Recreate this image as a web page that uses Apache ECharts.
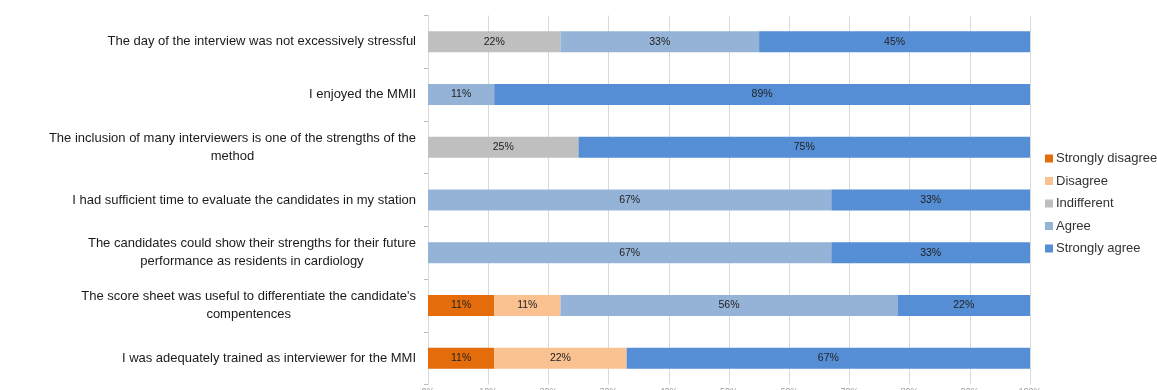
<!DOCTYPE html>
<html><head><meta charset="utf-8">
<script src="https://cdn.jsdelivr.net/npm/echarts@6/dist/echarts.min.js"></script>
<style>html,body{margin:0;padding:0;background:#fff}#c{width:1157px;height:390px}</style>
</head><body><div id="c"></div>
<script>
const categories = [
  "The day of the interview was not excessively stressful",
  "I enjoyed the MMII",
  "The inclusion of many interviewers is one of the strengths of the\nmethod",
  "I had sufficient time to evaluate the candidates in my station",
  "The candidates could show their strengths for their future\nperformance as residents in cardiology",
  "The score sheet was useful to differentiate the candidate's\ncompentences",
  "I was adequately trained as interviewer for the MMI"
];
const seriesNames = ["Strongly disagree","Disagree","Indifferent","Agree","Strongly agree"];
const stronglyDisagree = [0, 0, 0, 0, 0, 11, 11];
const disagree         = [0, 0, 0, 0, 0, 11, 22];
const indifferent      = [22, 0, 25, 0, 0, 0, 0];
const agree            = [33, 11, 0, 67, 67, 56, 0];
const stronglyAgree    = [45, 89, 75, 33, 33, 22, 67];
const tickLabels = ["0%","10%","20%","30%","40%","50%","60%","70%","80%","90%","100%"];
const colors = ["#E46C0A","#FAC191","#BFBFBF","#95B3D7","#558ED5"];
const values = [stronglyDisagree, disagree, indifferent, agree, stronglyAgree];

const chart = echarts.init(document.getElementById('c'), null, {renderer:'canvas'});
chart.setOption({
  animation:false,
  color: colors,
  grid:{left:428, right:127, top:15.5, bottom:5.5, containLabel:false, outerBoundsMode:'none'},
  legend:{
    orient:'vertical', left:1040, top:147,
    itemWidth:8, itemHeight:8, itemGap:9.5,
    icon:'rect',
    textStyle:{fontFamily:'Liberation Sans', fontSize:13, color:'#333', padding:[0,0,0,-2]},
    data: seriesNames
  },
  xAxis:{
    type:'value', min:0, max:100, interval:10,
    axisLine:{show:false}, axisTick:{show:false},
    splitLine:{lineStyle:{color:'#d9d9d9', width:1}},
    axisLabel:{margin:3, fontSize:9, color:'#999', fontFamily:'Liberation Sans',
      formatter:(v)=>tickLabels[Math.round(v/10)]}
  },
  yAxis:{
    type:'category', inverse:true, data:categories,
    axisLine:{show:true, lineStyle:{color:'#d9d9d9'}},
    axisTick:{show:true, length:4, lineStyle:{color:'#bbb'}},
    axisLabel:{
      margin:12, fontSize:13, color:'#1a1a1a', fontFamily:'Liberation Sans', lineHeight:18,
      formatter:(v)=>v.split('\n').map(s=>'{c|'+s+'}').join('\n'),
      rich:{c:{align:'center', fontSize:13, fontFamily:'Liberation Sans', color:'#1a1a1a', lineHeight:18}}
    }
  },
  series: seriesNames.map((n,i)=>({
    name:n, type:'bar', stack:'s', barWidth:21,
    data: values[i].map(v=>v===0?null:v),
    itemStyle:{color:colors[i]},
    label:{show:true, position:'inside', formatter:(p)=>p.value+'%',
      fontSize:10.5, color:'#222', fontFamily:'Liberation Sans'}
  }))
});
</script></body></html>
